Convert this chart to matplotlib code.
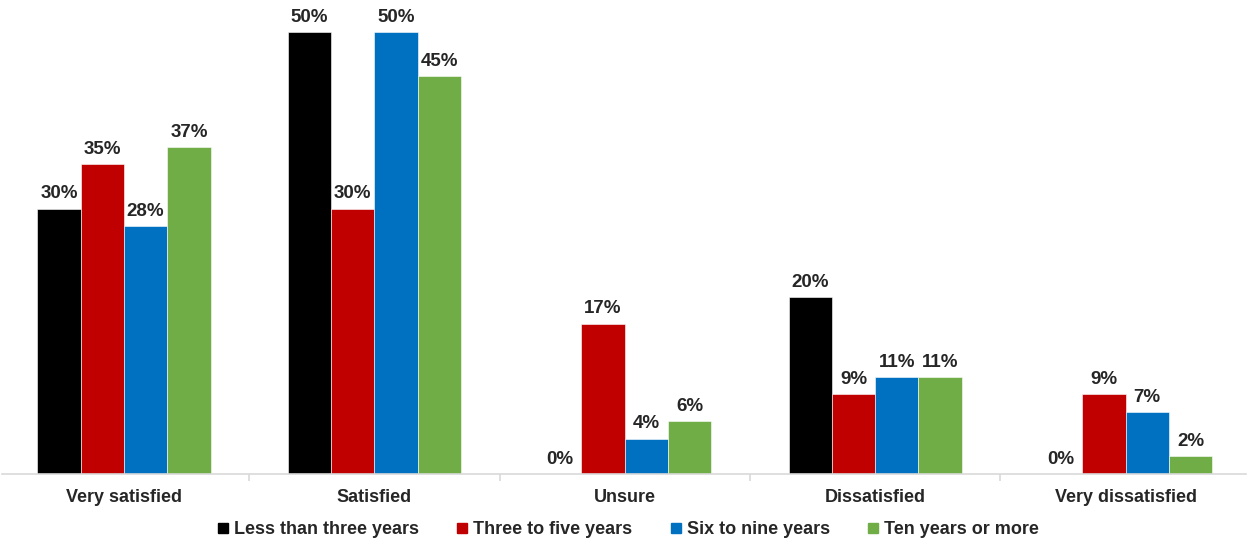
import matplotlib.pyplot as plt
import numpy as np
from matplotlib.lines import Line2D

plt.rcParams['font.family'] = ['Liberation Sans', 'DejaVu Sans']

CATEGORIES = ['Very satisfied', 'Satisfied', 'Unsure', 'Dissatisfied', 'Very dissatisfied']
SERIES = ['Less than three years', 'Three to five years', 'Six to nine years', 'Ten years or more']
VALUES = [
    [30, 50, 0, 20, 0],
    [35, 30, 17, 9, 9],
    [28, 50, 4, 11, 7],
    [37, 45, 6, 11, 2],
]
COLORS = ['#000000', '#C00000', '#0070C0', '#70AD47']

fig = plt.figure(figsize=(12.48, 5.43), dpi=100)
ax = fig.add_axes([0.002, 0.127, 0.996, 0.873])

x = np.arange(len(CATEGORIES))
width = 0.173

for i, (name, vals, color) in enumerate(zip(SERIES, VALUES, COLORS)):
    pos = x + (i - 1.5) * width
    bars = ax.bar(pos, vals, width, color=color, edgecolor='white', linewidth=0.4, label=name)
    for b, v in zip(bars, vals):
        ax.annotate(f'{v}%', (b.get_x() + b.get_width() / 2, v),
                    xytext=(0, 4.5), textcoords='offset points',
                    ha='center', va='bottom', fontsize=13.5, fontweight='bold', color='#262626')

ax.set_xlim(-0.485, 4.479)
ax.set_ylim(0, 53.6)
ax.set_yticks([])
for side in ['left', 'right', 'top']:
    ax.spines[side].set_visible(False)
ax.spines['bottom'].set_color('#D9D9D9')
ax.spines['bottom'].set_linewidth(1.2)

# category names centred, small separator ticks between groups
ax.set_xticks(x)
ax.set_xticklabels(CATEGORIES, fontsize=13, fontweight='bold', color='#262626')
ax.tick_params(axis='x', which='major', length=0, pad=11)
ax.set_xticks(np.arange(0.5, len(CATEGORIES) - 1), minor=True)
ax.tick_params(axis='x', which='minor', length=5, color='#D9D9D9', width=1.2)

handles = [Line2D([], [], marker='s', linestyle='none', markersize=6.5,
                  markerfacecolor=c, markeredgecolor=c) for c in COLORS]
fig.legend(handles, SERIES, loc='center', bbox_to_anchor=(0.502, 0.024),
           ncol=4, frameon=False, handletextpad=0.1, handlelength=1.0,
           columnspacing=1.9, prop={'size': 13, 'weight': 'bold'}, labelcolor='#262626')

fig.savefig('out.png', dpi=100, facecolor='white')
